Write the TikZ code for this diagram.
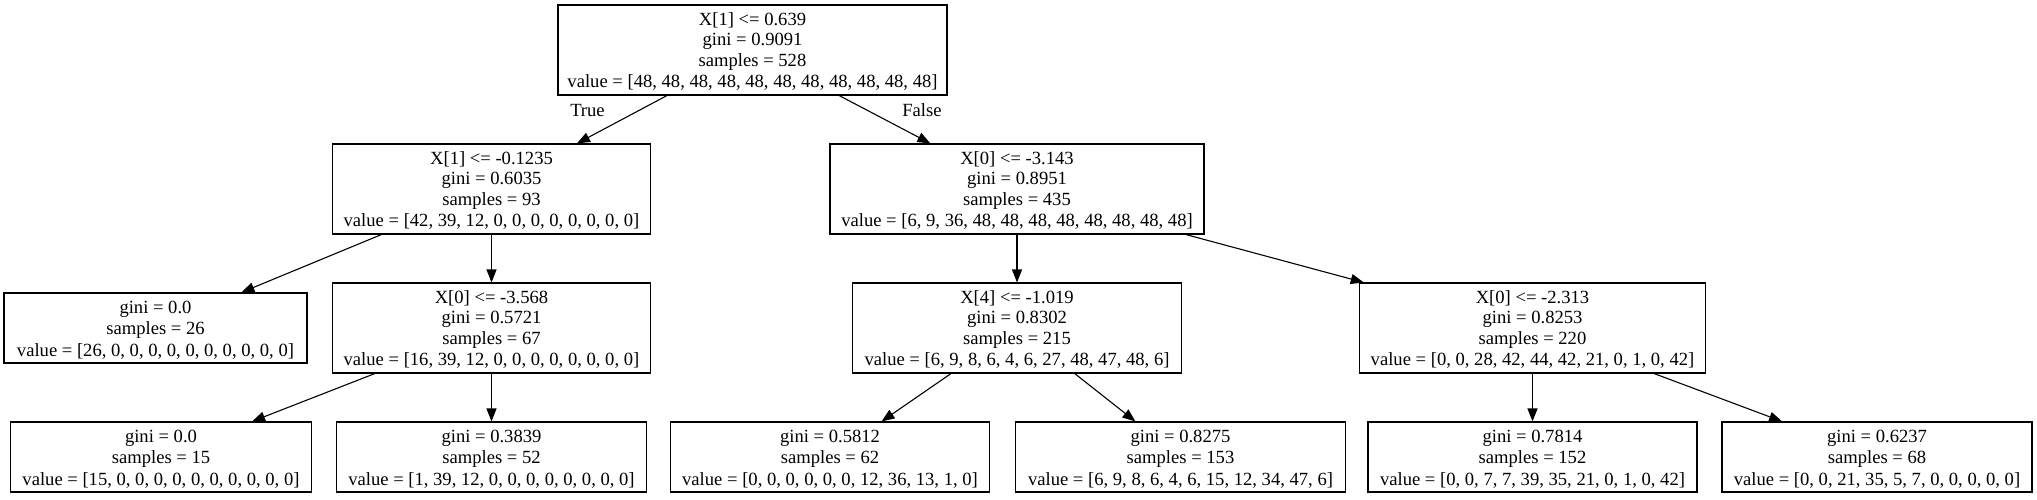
\documentclass[tikz,border=0pt]{standalone}
\usepackage{fontspec}
\setmainfont{Liberation Serif}
\usetikzlibrary{arrows.meta}
\newcommand{\gstrut}{\rule[-3.1pt]{0pt}{19.6pt}}
\begin{document}
\begin{tikzpicture}[x=1pt,y=-1pt,
  treebox/.style={draw=black, line width=1.1pt, fill=white, rectangle, inner sep=0pt, align=center,
    font=\fontsize{18.6pt}{19.6pt}\selectfont},
  edge/.style={draw=black, line width=1.1pt, -{Triangle[length=13pt,width=10pt]}},
  elabel/.style={font=\fontsize{18.6pt}{19.6pt}\selectfont, anchor=base, inner sep=0pt}]
\useasboundingbox (0,0) rectangle (2037,499);
\fill[white] (0,0) rectangle (2037,499);
% level 0
\node[treebox, minimum width=389pt, minimum height=90pt] (root) at (752.5,50)
  {\gstrut X[1] <= 0.639\\ \gstrut gini = 0.9091\\ \gstrut samples = 528\\ \gstrut value = [48, 48, 48, 48, 48, 48, 48, 48, 48, 48, 48]};
% level 1
\node[treebox, minimum width=318pt, minimum height=90pt] (A) at (491.5,189)
  {\gstrut X[1] <= -0.1235\\ \gstrut gini = 0.6035\\ \gstrut samples = 93\\ \gstrut value = [42, 39, 12, 0, 0, 0, 0, 0, 0, 0, 0]};
\node[treebox, minimum width=374pt, minimum height=90pt] (B) at (1017,189)
  {\gstrut X[0] <= -3.143\\ \gstrut gini = 0.8951\\ \gstrut samples = 435\\ \gstrut value = [6, 9, 36, 48, 48, 48, 48, 48, 48, 48, 48]};
% level 2
\node[treebox, minimum width=303pt, minimum height=70pt] (C) at (155.5,328)
  {\gstrut gini = 0.0\\ \gstrut samples = 26\\ \gstrut value = [26, 0, 0, 0, 0, 0, 0, 0, 0, 0, 0]};
\node[treebox, minimum width=318pt, minimum height=90pt] (D) at (491.5,328)
  {\gstrut X[0] <= -3.568\\ \gstrut gini = 0.5721\\ \gstrut samples = 67\\ \gstrut value = [16, 39, 12, 0, 0, 0, 0, 0, 0, 0, 0]};
\node[treebox, minimum width=329pt, minimum height=90pt] (E) at (1017,328)
  {\gstrut X[4] <= -1.019\\ \gstrut gini = 0.8302\\ \gstrut samples = 215\\ \gstrut value = [6, 9, 8, 6, 4, 6, 27, 48, 47, 48, 6]};
\node[treebox, minimum width=346pt, minimum height=90pt] (F) at (1532.5,328)
  {\gstrut X[0] <= -2.313\\ \gstrut gini = 0.8253\\ \gstrut samples = 220\\ \gstrut value = [0, 0, 28, 42, 44, 42, 21, 0, 1, 0, 42]};
% level 3
\node[treebox, minimum width=301pt, minimum height=70pt] (G) at (161,457)
  {\gstrut gini = 0.0\\ \gstrut samples = 15\\ \gstrut value = [15, 0, 0, 0, 0, 0, 0, 0, 0, 0, 0]};
\node[treebox, minimum width=310pt, minimum height=70pt] (H) at (491.5,457)
  {\gstrut gini = 0.3839\\ \gstrut samples = 52\\ \gstrut value = [1, 39, 12, 0, 0, 0, 0, 0, 0, 0, 0]};
\node[treebox, minimum width=319pt, minimum height=70pt] (I) at (830,457)
  {\gstrut gini = 0.5812\\ \gstrut samples = 62\\ \gstrut value = [0, 0, 0, 0, 0, 0, 12, 36, 13, 1, 0]};
\node[treebox, minimum width=330pt, minimum height=70pt] (J) at (1180.5,457)
  {\gstrut gini = 0.8275\\ \gstrut samples = 153\\ \gstrut value = [6, 9, 8, 6, 4, 6, 15, 12, 34, 47, 6]};
\node[treebox, minimum width=329pt, minimum height=70pt] (K) at (1532.5,457)
  {\gstrut gini = 0.7814\\ \gstrut samples = 152\\ \gstrut value = [0, 0, 7, 7, 39, 35, 21, 0, 1, 0, 42]};
\node[treebox, minimum width=310pt, minimum height=70pt] (L) at (1877,457)
  {\gstrut gini = 0.6237\\ \gstrut samples = 68\\ \gstrut value = [0, 0, 21, 35, 5, 7, 0, 0, 0, 0, 0]};
% edges
\draw[edge] (root) -- (A);
\draw[edge] (root) -- (B);
\draw[edge] (A) -- (C);
\draw[edge] (A) -- (D);
\draw[edge] (D) -- (G);
\draw[edge] (D) -- (H);
\draw[edge] (B) -- (E);
\draw[edge] (B) -- (F);
\draw[edge] (E) -- (I);
\draw[edge] (E) -- (J);
\draw[edge] (F) -- (K);
\draw[edge] (F) -- (L);
% edge labels
\node[elabel] (ltrue) at (587.5,116.7) {True};
\node[elabel] (lfalse) at (922,116.7) {False};
\end{tikzpicture}
\end{document}
